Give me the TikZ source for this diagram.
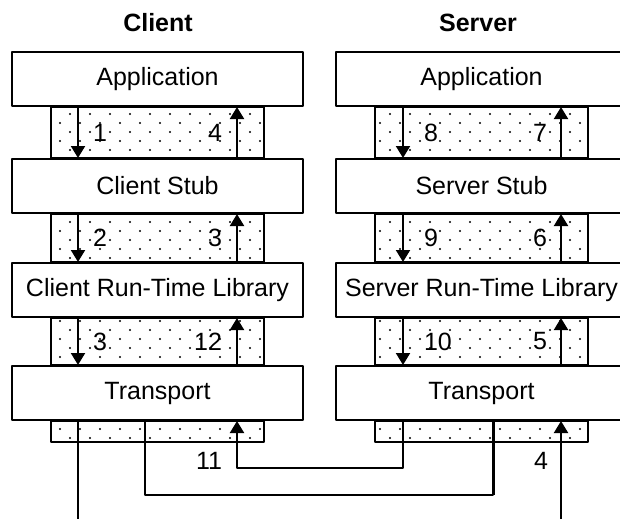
\documentclass[tikz,border=0pt]{standalone}
\usepackage{fontspec}
\setmainfont{Liberation Sans}
\usetikzlibrary{arrows.meta,patterns.meta}

\tikzdeclarepattern{
	name=stippledots,
	type=uncolored,
	bottom left={(-1.2pt,-1.2pt)},
	top right={(19pt,17pt)},
	tile size={(20pt,18pt)},
	code={\pgfpathcircle{\pgfpoint{0pt}{0pt}}{1.1pt}
		\pgfpathcircle{\pgfpoint{10pt}{9pt}}{1.1pt}
		\pgfusepath{fill}}
}

\begin{document}
\begin{tikzpicture}[x=1pt,y=-1pt,font=\fontsize{25}{30}\selectfont, line join=round, line width=2pt, >={Triangle[width=14pt,length=12pt]},
	layer/.style={draw,fill=white,minimum width=291pt,minimum height=54pt,inner sep=0pt},
	gapfill/.style={draw,pattern=stippledots,pattern color=black},
	num/.style={inner sep=0pt},
	title/.style={font=\fontsize{25}{30}\selectfont\bfseries}]
	\useasboundingbox (0,0) rectangle (620,519);
	\clip (0,0) rectangle (620,519);
	
	\node[title] (ctitle) at (158,23) {Client};
	\node[title] (stitle) at (478,23) {Server};
	
	\coordinate (cL) at (78,0);
	\coordinate (cM) at (145,0);
	\coordinate (cR) at (237,0);
	\coordinate (sL) at (403,0);
	\coordinate (sM) at (493,0);
	\coordinate (sR) at (561,0);
	\coordinate (lo11) at (0,468);
	\coordinate (lo13) at (0,495);
	\coordinate (cend) at (78,519);
	\coordinate (send) at (561,519);
	
	% layers
	\foreach \n/\y/\t in {capp/79/Application, cstub/186/Client Stub, crtl/290/Client Run-Time Library, ctr/393/Transport}
		\node[layer] (\n) at (157.5,\y) {\t};
	\foreach \n/\y/\t in {sapp/79/Application, sstub/186/Server Stub, srtl/290/Server Run-Time Library, str/393/Transport}
		\node[layer] (\n) at (481.5,\y) {\t};
	
	% calls between layers
	\foreach \u/\l/\a/\b in {capp/cstub/1/4, cstub/crtl/2/3, crtl/ctr/3/12}{
		\draw[gapfill] ([xshift=40pt]\u.south west) rectangle ([xshift=-40pt]\l.north east);
		\draw[->] (\u.south -| cL) -- node[num,anchor=west,xshift=14pt]{\a} (\l.north -| cL);
		\draw[->] (\l.north -| cR) -- node[num,anchor=east,xshift=-14pt]{\b} (\u.south -| cR);
	}
	\foreach \u/\l/\a/\b in {sapp/sstub/8/7, sstub/srtl/9/6, srtl/str/10/5}{
		\draw[gapfill] ([xshift=40pt]\u.south west) rectangle ([xshift=-40pt]\l.north east);
		\draw[->] (\u.south -| sL) -- node[num,anchor=west,xshift=20pt]{\a} (\l.north -| sL);
		\draw[->] (\l.north -| sR) -- node[num,anchor=east,xshift=-13pt]{\b} (\u.south -| sR);
	}
	\draw[gapfill] ([xshift=40pt]ctr.south west) rectangle ([xshift=-40pt,yshift=-21pt]ctr.south east);
	\draw[gapfill] ([xshift=40pt]str.south west) rectangle ([xshift=-40pt,yshift=-21pt]str.south east);
	
	% network
	\draw (ctr.south -| cL) -- (cend);
	\draw (ctr.south -| cM) -- (cM |- lo13) -| (str.south -| sM);
	\draw[line width=3pt] (sM |- lo13) -- (str.south -| sM);
	\draw[->] (str.south -| sL) -- (sL |- lo11) -| node[num,pos=.5,anchor=east,xshift=-14pt,yshift=7pt]{11} (ctr.south -| cR);
	\draw[->] (send) -- node[num,pos=.59,anchor=east,xshift=-12pt]{4} (str.south -| sR);
\end{tikzpicture}
\end{document}
